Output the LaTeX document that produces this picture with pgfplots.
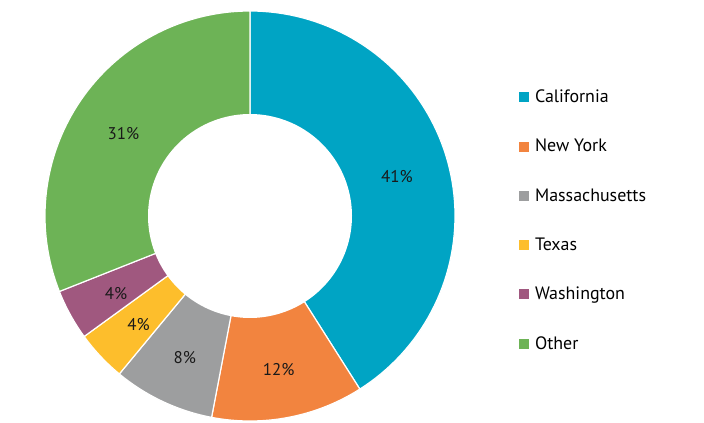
\documentclass[border=0pt]{standalone}
\usepackage{pgfplots}
\usepackage{pgfplotstable}
\pgfplotsset{compat=1.18}
\usepackage{fontspec}
\setmainfont{PT Sans}
\definecolor{cCal}{HTML}{00A4C4}
\definecolor{cNY}{HTML}{F2843F}
\definecolor{cMA}{HTML}{9D9E9F}
\definecolor{cTX}{HTML}{FDBE2C}
\definecolor{cWA}{HTML}{A0587F}
\definecolor{cOT}{HTML}{6DB356}
\pgfplotstableread{
name value color
California 41 cCal
NewYork 12 cNY
Massachusetts 8 cMA
Texas 4 cTX
Washington 4 cWA
Other 31 cOT
}\data
\def\cx{250}
\def\cy{207}
\def\Rout{205}
\def\Rin{102}
\def\Rlab{153}
\begin{document}
\begin{tikzpicture}
\path (0,0) rectangle (704bp,423bp);
\begin{axis}[
  at={(0,0)}, anchor=south west,
  scale only axis, width=704bp, height=423bp,
  xmin=0, xmax=704, ymin=0, ymax=423,
  hide axis, clip=false,
  legend style={at={(axis cs:516,337)}, anchor=north west, draw=none, fill=none,
    font=\fontsize{18}{21.5}\selectfont, row sep=32.2bp,
    nodes={inner sep=1.5bp},
    /tikz/every odd column/.append style={column sep=5bp}},
  legend cell align=left,
]
\pgfmathsetmacro\cum{0}
\pgfplotsforeachungrouped \i in {0,...,5}{%
  \pgfplotstablegetelem{\i}{value}\of\data \let\v\pgfplotsretval
  \pgfplotstablegetelem{\i}{color}\of\data \let\c\pgfplotsretval
  \pgfmathsetmacro\a{90-3.6*\cum}%
  \pgfmathsetmacro\b{90-3.6*(\cum+\v)}%
  \edef\temp{\noexpand\addplot[fill=\c, draw=white, line width=1.2pt, domain=\b:\a, samples=80, forget plot] ({\cx+\Rout*cos(x)},{\cy+\Rout*sin(x)}) -- (axis cs:\cx,\cy) -- cycle;}%
  \temp
  \pgfmathsetmacro\cum{\cum+\v}%
}
\addplot[fill=white, draw=none, domain=0:360, samples=150, forget plot] ({\cx+\Rin*cos(x)},{\cy+\Rin*sin(x)}) -- cycle;
\pgfmathsetmacro\cum{0}
\pgfplotsforeachungrouped \i in {0,...,5}{%
  \pgfplotstablegetelem{\i}{value}\of\data \let\v\pgfplotsretval
  \pgfmathsetmacro\m{90-3.6*(\cum+\v/2)}%
  \pgfmathsetmacro\lx{\cx+\Rlab*cos(\m)}%
  \pgfmathsetmacro\ly{\cy+\Rlab*sin(\m)-3.5}%
  \edef\temp{\noexpand\node[font=\noexpand\fontsize{17}{20}\noexpand\selectfont, text=black!90] at (axis cs:\lx,\ly) {\v\noexpand\%};}%
  \temp
  \pgfmathsetmacro\cum{\cum+\v}%
}
\addlegendimage{legend image code/.code={\fill[cCal] (0bp,-4.5bp) rectangle (9bp,4.5bp);}}
\addlegendentry{California}
\addlegendimage{legend image code/.code={\fill[cNY] (0bp,-4.5bp) rectangle (9bp,4.5bp);}}
\addlegendentry{New York}
\addlegendimage{legend image code/.code={\fill[cMA] (0bp,-4.5bp) rectangle (9bp,4.5bp);}}
\addlegendentry{Massachusetts}
\addlegendimage{legend image code/.code={\fill[cTX] (0bp,-4.5bp) rectangle (9bp,4.5bp);}}
\addlegendentry{Texas}
\addlegendimage{legend image code/.code={\fill[cWA] (0bp,-4.5bp) rectangle (9bp,4.5bp);}}
\addlegendentry{Washington}
\addlegendimage{legend image code/.code={\fill[cOT] (0bp,-4.5bp) rectangle (9bp,4.5bp);}}
\addlegendentry{Other}
\end{axis}
\end{tikzpicture}
\end{document}
